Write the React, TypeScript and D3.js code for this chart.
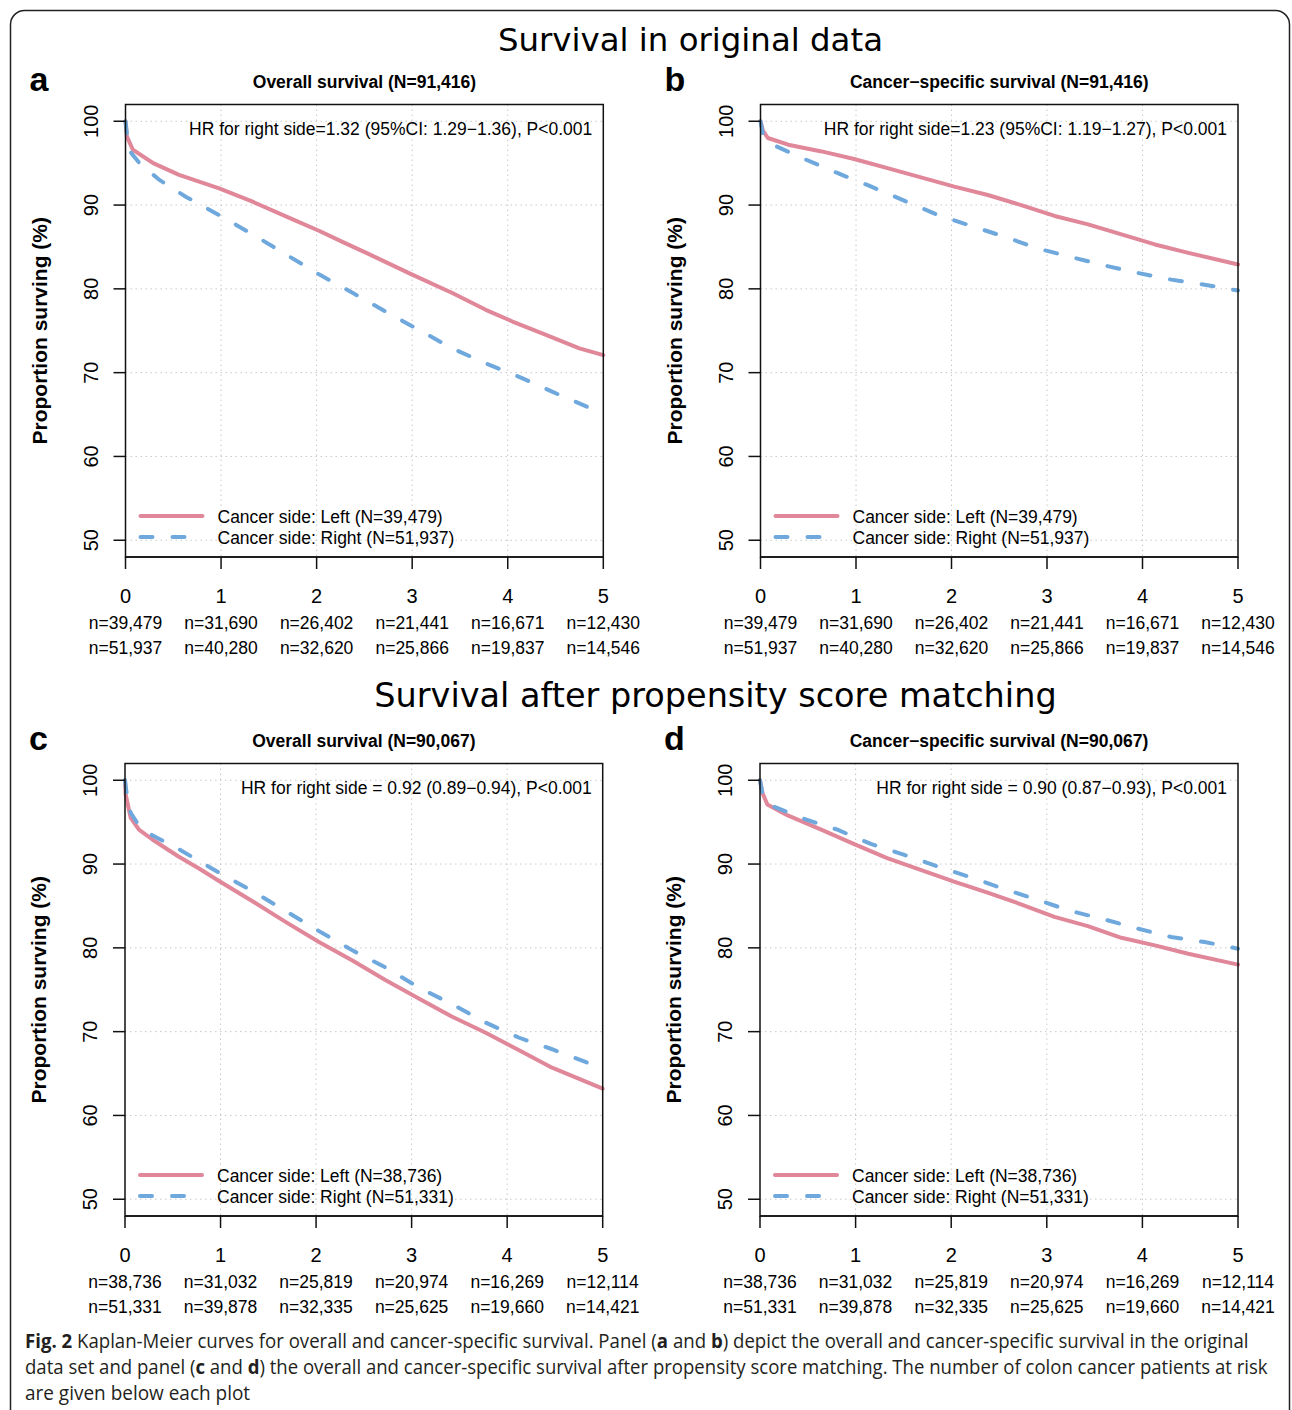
import React, { useLayoutEffect, useRef, useState } from 'react';
import * as d3 from 'd3';

// ---------- data ----------
const yearTicks = [0, 1, 2, 3, 4, 5];
const survTicks = [50, 60, 70, 80, 90, 100];

// Panel a: overall survival, original data
const aLeftT = [0, 0.014, 0.077, 0.29, 0.56, 0.98, 1.33, 1.75, 2.03, 2.27, 2.52, 3.0, 3.42, 3.77, 4.05, 4.4, 4.75, 5.0];
const aLeftS = [100, 98.2, 96.6, 95.0, 93.6, 92.0, 90.4, 88.3, 86.9, 85.6, 84.3, 81.7, 79.5, 77.5, 76.1, 74.5, 72.9, 72.1];
const aRightT = [0, 0.014, 0.06, 0.146, 0.355, 0.63, 0.98, 1.33, 1.68, 2.03, 2.38, 2.72, 3.07, 3.42, 3.77, 4.12, 4.47, 5.0];
const aRightS = [100, 98.6, 96.2, 95.0, 93.0, 91.0, 88.8, 86.5, 84.1, 81.7, 79.5, 77.3, 75.1, 72.9, 71.1, 69.5, 67.7, 65.1];

// Panel b: cancer-specific survival, original data
const bLeftT = [0, 0.025, 0.077, 0.29, 0.64, 0.98, 1.33, 1.68, 2.03, 2.38, 2.73, 3.08, 3.43, 3.78, 4.13, 4.48, 5.0];
const bLeftS = [100, 98.9, 98.0, 97.2, 96.4, 95.5, 94.4, 93.3, 92.2, 91.2, 90.0, 88.7, 87.7, 86.5, 85.3, 84.3, 82.9];
const bRightT = [0, 0.025, 0.147, 0.46, 0.81, 1.16, 1.51, 1.86, 2.21, 2.56, 2.91, 3.25, 3.6, 3.95, 4.3, 4.65, 5.0];
const bRightS = [100, 98.5, 97.1, 95.5, 93.8, 92.2, 90.5, 88.8, 87.5, 86.2, 84.8, 83.8, 82.8, 81.9, 81.1, 80.5, 79.8];

// Panel c: overall survival, after matching
const cLeftT = [0, 0.007, 0.06, 0.146, 0.29, 0.56, 0.77, 0.98, 1.33, 1.68, 2.03, 2.38, 2.72, 3.07, 3.42, 3.77, 4.12, 4.47, 5.0];
const cLeftS = [100, 98.3, 95.5, 94.1, 92.9, 90.9, 89.5, 88.0, 85.6, 83.1, 80.7, 78.5, 76.2, 74.0, 71.8, 69.9, 67.8, 65.7, 63.2];
const cRightT = [0, 0.014, 0.06, 0.146, 0.29, 0.56, 0.98, 1.33, 1.68, 2.03, 2.38, 2.72, 3.07, 3.42, 3.77, 4.12, 4.47, 5.0];
const cRightS = [100, 98.7, 96.1, 94.6, 93.4, 91.8, 89.0, 86.8, 84.4, 82.0, 79.7, 77.7, 75.3, 73.3, 71.1, 69.3, 67.9, 65.6];

// Panel d: cancer-specific survival, after matching
const dLeftT = [0, 0.025, 0.077, 0.29, 0.64, 0.98, 1.33, 1.68, 2.03, 2.38, 2.73, 3.08, 3.43, 3.78, 4.13, 4.48, 5.0];
const dLeftS = [100, 98.5, 97.1, 95.8, 94.1, 92.4, 90.7, 89.3, 87.9, 86.6, 85.2, 83.7, 82.6, 81.2, 80.3, 79.3, 78.0];
const dRightT = [0, 0.025, 0.11, 0.46, 0.81, 1.16, 1.51, 1.86, 2.21, 2.56, 2.91, 3.25, 3.6, 3.95, 4.3, 4.65, 5.0];
const dRightS = [100, 98.5, 97.0, 95.4, 94.1, 92.4, 91.1, 89.7, 88.4, 87.0, 85.7, 84.4, 83.4, 82.3, 81.3, 80.7, 79.9];

// Numbers at risk
const riskOrigLeft = ['39,479', '31,690', '26,402', '21,441', '16,671', '12,430'];
const riskOrigRight = ['51,937', '40,280', '32,620', '25,866', '19,837', '14,546'];
const riskPsmLeft = ['38,736', '31,032', '25,819', '20,974', '16,269', '12,114'];
const riskPsmRight = ['51,331', '39,878', '32,335', '25,625', '19,660', '14,421'];

const panelLetters = ['a', 'b', 'c', 'd'];
const panelTitles = [
  'Overall survival (N=91,416)',
  'Cancer\u2212specific survival (N=91,416)',
  'Overall survival (N=90,067)',
  'Cancer\u2212specific survival (N=90,067)',
];
const hrTexts = [
  'HR for right side=1.32 (95%CI: 1.29\u22121.36), P<0.001',
  'HR for right side=1.23 (95%CI: 1.19\u22121.27), P<0.001',
  'HR for right side = 0.92 (0.89\u22120.94), P<0.001',
  'HR for right side = 0.90 (0.87\u22120.93), P<0.001',
];
const legendOrig = ['Cancer side: Left (N=39,479)', 'Cancer side: Right (N=51,937)'];
const legendPsm = ['Cancer side: Left (N=38,736)', 'Cancer side: Right (N=51,331)'];
const sectionTitles = ['Survival in original data', 'Survival after propensity score matching'];

const PINK = '#E0879A';
const BLUE = '#6FA8DC';
const FONT = '"Liberation Sans", Arial, Helvetica, sans-serif';

type PanelProps = {
  idx: number;
  x0: number; x1: number; y0: number; y1: number;
  leftT: number[]; leftS: number[]; rightT: number[]; rightS: number[];
  riskL: string[]; riskR: string[]; legend: string[];
};

function Panel(p: PanelProps) {
  const x = d3.scaleLinear().domain([0, 5]).range([p.x0, p.x1]);
  const y = d3.scaleLinear().domain([48, 102]).range([p.y1, p.y0]);
  const line = d3.line<[number, number]>().x(d => x(d[0])).y(d => y(d[1]));
  const leftPts = p.leftT.map((t, i) => [t, p.leftS[i]] as [number, number]);
  const rightPts = p.rightT.map((t, i) => [t, p.rightS[i]] as [number, number]);
  const cx = (p.x0 + p.x1) / 2;
  const cy = (p.y0 + p.y1) / 2;
  return (
    <g fontFamily={FONT} fill="#000">
      <text x={p.x0 - 96} y={p.y0 - 14} fontSize={34} fontWeight="bold">{panelLetters[p.idx]}</text>
      <text x={cx} y={p.y0 - 17} fontSize={17.5} fontWeight="bold" textAnchor="middle">{panelTitles[p.idx]}</text>
      {yearTicks.slice(1, 5).map(t => (
        <line key={'gx' + t} x1={x(t)} x2={x(t)} y1={p.y0} y2={p.y1} stroke="#c8c8c8" strokeWidth={1} strokeDasharray="1.5,3.5" />
      ))}
      {survTicks.map(v => (
        <line key={'gy' + v} x1={p.x0} x2={p.x1} y1={y(v)} y2={y(v)} stroke="#c8c8c8" strokeWidth={1} strokeDasharray="1.5,3.5" />
      ))}
      <path d={line(leftPts) || ''} fill="none" stroke={PINK} strokeWidth={4} strokeLinejoin="round" strokeLinecap="round" />
      <path d={line(rightPts) || ''} fill="none" stroke={BLUE} strokeWidth={4} strokeDasharray="12,20" strokeLinecap="round" />
      <rect x={p.x0} y={p.y0} width={p.x1 - p.x0} height={p.y1 - p.y0} fill="none" stroke="#111" strokeWidth={1.5} />
      {survTicks.map(v => (
        <g key={'yt' + v}>
          <line x1={p.x0 - 12} x2={p.x0} y1={y(v)} y2={y(v)} stroke="#111" strokeWidth={1.5} />
          <text transform={`translate(${p.x0 - 28},${y(v)}) rotate(-90)`} fontSize={20} textAnchor="middle">{v}</text>
        </g>
      ))}
      <text transform={`translate(${p.x0 - 79},${cy}) rotate(-90)`} fontSize={21} fontWeight="bold" textAnchor="middle">Proportion surving (%)</text>
      <line x1={p.x0} x2={p.x1} y1={p.y1} y2={p.y1} stroke="#111" strokeWidth={1.5} />
      {yearTicks.map((t, i) => (
        <g key={'xt' + t}>
          <line x1={x(t)} x2={x(t)} y1={p.y1} y2={p.y1 + 12} stroke="#111" strokeWidth={1.5} />
          <text x={x(t)} y={p.y1 + 46} fontSize={20} textAnchor="middle">{t}</text>
          <text x={x(t)} y={p.y1 + 72} fontSize={17.5} textAnchor="middle">n={p.riskL[i]}</text>
          <text x={x(t)} y={p.y1 + 97} fontSize={17.5} textAnchor="middle">n={p.riskR[i]}</text>
        </g>
      ))}
      <text x={p.x1 - 11} y={p.y0 + 30} fontSize={17.5} textAnchor="end">{hrTexts[p.idx]}</text>
      <line x1={p.x0 + 15} x2={p.x0 + 77} y1={p.y1 - 41} y2={p.y1 - 41} stroke={PINK} strokeWidth={4} strokeLinecap="round" />
      <line x1={p.x0 + 15} x2={p.x0 + 77} y1={p.y1 - 20} y2={p.y1 - 20} stroke={BLUE} strokeWidth={4} strokeDasharray="12,20" strokeLinecap="round" />
      <text x={p.x0 + 92} y={p.y1 - 34} fontSize={17.5}>{p.legend[0]}</text>
      <text x={p.x0 + 92} y={p.y1 - 13} fontSize={17.5}>{p.legend[1]}</text>
    </g>
  );
}

function CaptionLine(props: { x: number; y: number; width: number; children: React.ReactNode }) {
  const ref = useRef<SVGTextElement>(null);
  const [k, setK] = useState(1);
  useLayoutEffect(() => {
    const measure = () => {
      if (ref.current) {
        const w = ref.current.getComputedTextLength();
        if (w > 0) setK(props.width / w);
      }
    };
    measure();
    if ((document as any).fonts && (document as any).fonts.ready) {
      (document as any).fonts.ready.then(measure);
    }
  }, [props.width]);
  return (
    <g transform={`translate(${props.x},${props.y}) scale(${k},1)`}>
      <text ref={ref} x={0} y={0}>{props.children}</text>
    </g>
  );
}

export default function App() {
  const W = 1292, H = 1410;
  const topY0 = 104.5, topY1 = 557;
  const off = 659;
  const capColor = '#231f20';
  const capFont = '"Open Sans", "Noto Sans", sans-serif';
  return (
    <svg width={W} height={H} viewBox={`0 0 ${W} ${H}`} style={{ position: 'absolute', left: 0, top: 0, background: '#fff' }}>
      <rect x={0} y={0} width={W} height={H} fill="#fff" />
      <rect x={10.5} y={10.5} width={1279} height={1460} rx={14} fill="none" stroke="#222" strokeWidth={1.5} />
      <text x={690.5} y={51} fontFamily='"DejaVu Sans", sans-serif' fontSize={32.4} textAnchor="middle">{sectionTitles[0]}</text>
      <text x={715.5} y={707} fontFamily='"DejaVu Sans", sans-serif' fontSize={33.5} textAnchor="middle">{sectionTitles[1]}</text>
      <Panel idx={0} x0={125.5} x1={603.3} y0={topY0} y1={topY1} leftT={aLeftT} leftS={aLeftS} rightT={aRightT} rightS={aRightS} riskL={riskOrigLeft} riskR={riskOrigRight} legend={legendOrig} />
      <Panel idx={1} x0={760.5} x1={1238} y0={topY0} y1={topY1} leftT={bLeftT} leftS={bLeftS} rightT={bRightT} rightS={bRightS} riskL={riskOrigLeft} riskR={riskOrigRight} legend={legendOrig} />
      <Panel idx={2} x0={125} x1={602.7} y0={topY0 + off} y1={topY1 + off} leftT={cLeftT} leftS={cLeftS} rightT={cRightT} rightS={cRightS} riskL={riskPsmLeft} riskR={riskPsmRight} legend={legendPsm} />
      <Panel idx={3} x0={760} x1={1238} y0={topY0 + off} y1={topY1 + off} leftT={dLeftT} leftS={dLeftS} rightT={dRightT} rightS={dRightS} riskL={riskPsmLeft} riskR={riskPsmRight} legend={legendPsm} />
      <g fontFamily={capFont} fontSize={20} fill={capColor}>
        <CaptionLine x={25} y={1348} width={1223}>
          <tspan fontWeight="bold">Fig. 2</tspan> Kaplan-Meier curves for overall and cancer-specific survival. Panel (<tspan fontWeight="bold">a</tspan> and <tspan fontWeight="bold">b</tspan>) depict the overall and cancer-specific survival in the original
        </CaptionLine>
        <CaptionLine x={25} y={1374} width={1243}>
          data set and panel (<tspan fontWeight="bold">c</tspan> and <tspan fontWeight="bold">d</tspan>) the overall and cancer-specific survival after propensity score matching. The number of colon cancer patients at risk
        </CaptionLine>
        <CaptionLine x={25} y={1400} width={225}>are given below each plot</CaptionLine>
      </g>
    </svg>
  );
}
